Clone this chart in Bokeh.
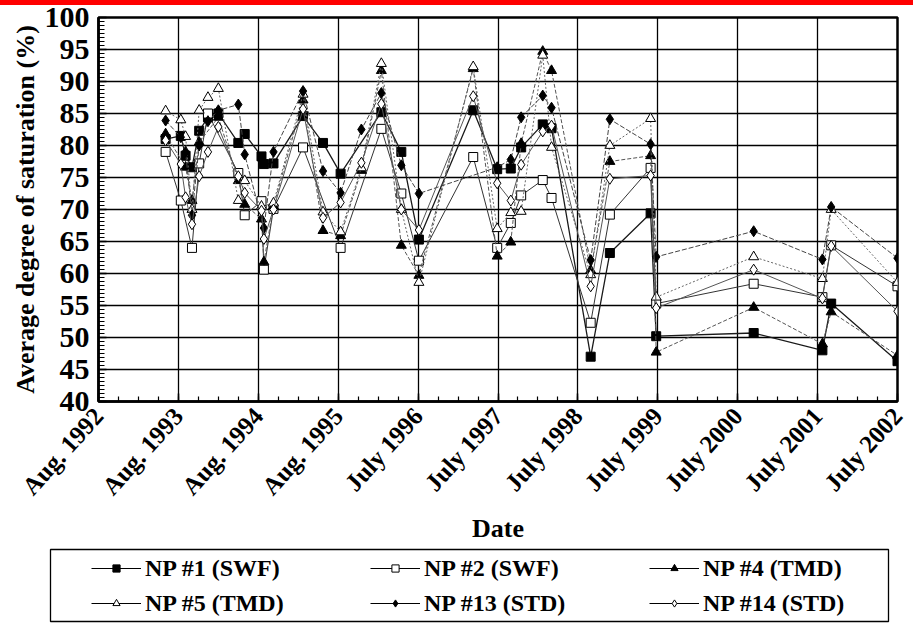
import math
from bokeh.plotting import figure
from bokeh.models import FixedTicker, Range1d, Legend, LegendItem, ColumnDataSource, Div
from bokeh.layouts import column
from bokeh.embed import file_html
from bokeh.resources import INLINE

# ---------------- data ----------------
# sampling dates, in years after Aug. 1992 (one axis interval = one year)
sample_t = [0.84, 1.03, 1.09, 1.17, 1.26, 1.37, 1.50, 1.75, 1.83, 2.04, 2.07, 2.19,
            2.56, 2.81, 3.03, 3.29, 3.54, 3.79, 4.01, 4.69, 4.99, 5.16, 5.29, 5.56,
            5.67, 6.16, 6.40, 6.91, 6.98, 8.20, 9.06, 9.17, 10.0]

tick_labels = ["Aug. 1992", "Aug. 1993", "Aug. 1994", "Aug. 1995", "July 1996", "July 1997",
               "July 1998", "July 1999", "July 2000", "July 2001", "July 2002"]

np1 = [81.0, 81.5, 78.4, 76.6, 82.3, 84.4, 85.0, 80.4, 81.8, 78.3, 77.1, 77.2,
       84.6, 80.4, 75.6, None, 85.2, 79.0, 65.3, 85.5, 76.3, 76.4, 79.7, 83.3,
       82.7, 47.0, 63.2, 69.4, 50.2, 50.7, 48.0, 55.3, 46.3]
np2 = [79.0, 71.4, None, 64.0, 77.2, 85.0, None, 75.7, 69.1, 71.3, 60.6, 70.1,
       79.7, None, 64.0, None, 82.6, 72.5, 62.0, 78.2, 64.0, 67.9, 72.2, 74.6,
       71.8, 52.3, 69.2, 76.5, 55.3, 58.4, 56.3, 64.4, 58.0]
np4 = [81.8, None, 76.6, 71.4, 80.5, None, 84.4, 74.5, 70.8, 68.5, 61.8, 70.5,
       87.1, 66.7, 65.9, 76.1, 91.7, 64.4, 59.7, 92.0, 62.7, 64.9, 80.3, 94.7,
       91.7, 60.5, 77.5, 78.4, 47.7, 54.7, 49.0, 54.0, 47.2]
np5 = [85.4, 84.0, 81.4, 70.0, 85.5, 87.5, 88.9, 71.4, 74.5, 70.5, None, 71.0,
       88.0, 69.6, 66.5, 76.5, 92.8, 70.0, 58.6, 92.3, 67.0, 69.5, 69.7, 94.1,
       79.7, 59.8, 80.0, 84.2, 56.3, 62.6, 59.2, 70.0, 58.6]
np13 = [83.9, 81.3, 79.0, 69.1, 80.0, 83.8, 85.5, 86.4, 78.6, None, 67.1, 79.0,
        88.5, 76.0, 72.6, 82.5, 88.2, 76.9, 72.5, None, 76.6, 77.8, 84.4, 87.8,
        85.9, 62.1, 84.1, 80.2, 62.6, 66.6, 62.2, 70.4, 62.4]
np14 = [80.8, 77.1, 71.9, 67.7, 75.2, 79.0, 82.9, 75.2, 72.6, 69.8, 65.4, 70.0,
        85.7, 68.7, 71.1, 77.3, 86.5, 70.0, 66.8, 87.7, 74.1, 71.4, 77.0, 82.2,
        83.1, 58.0, 74.8, 75.3, 54.6, 60.6, 56.1, 64.3, 54.1]

series_names = ["NP #1 (SWF)", "NP #2 (SWF)", "NP #4 (TMD)",
                "NP #5 (TMD)", "NP #13 (STD)", "NP #14 (STD)"]
series_values = [np1, np2, np4, np5, np13, np14]

# ---------------- styles ----------------
styles = [
    dict(marker="square",   fill="black", size=9,  lcolor="#1a1a1a", lwidth=1.3, dash="solid"),
    dict(marker="square",   fill="white", size=9,  lcolor="#333333", lwidth=1.0, dash="solid"),
    dict(marker="triangle", fill="black", size=10, lcolor="#555555", lwidth=1.0, dash="4 2"),
    dict(marker="triangle", fill="white", size=10, lcolor="#666666", lwidth=1.0, dash="2 2"),
    dict(marker="diamond",  fill="black", size=11, lcolor="#444444", lwidth=1.0, dash="5 2"),
    dict(marker="diamond",  fill="white", size=11, lcolor="#555555", lwidth=1.0, dash="solid"),
]

FONT = "Liberation Serif"

p = figure(width=913, height=548, x_range=Range1d(0, 10), y_range=Range1d(40, 100),
           output_backend="svg", toolbar_location=None,
           min_border_left=98, min_border_right=16, min_border_top=17, min_border_bottom=147)
p.frame_align = False
p.background_fill_color = "white"
p.border_fill_alpha = 0
p.outline_line_color = "black"
p.outline_line_width = 2.5

xt = FixedTicker(ticks=list(range(0, 11)), minor_ticks=[i / 4 for i in range(0, 41)])
yt = FixedTicker(ticks=list(range(40, 101, 5)), minor_ticks=[40 + i * 0.625 for i in range(0, 97)])
p.xaxis.ticker = xt
p.yaxis.ticker = yt
p.xgrid.ticker = xt
p.ygrid.ticker = yt
p.xaxis.major_label_overrides = {i: lab for i, lab in enumerate(tick_labels)}
p.xaxis.major_label_orientation = math.radians(48)

for ax in (p.xaxis, p.yaxis):
    ax.axis_line_width = 2.5
    ax.axis_line_color = "black"
    ax.major_tick_in = 8
    ax.major_tick_out = 0
    ax.minor_tick_in = 6
    ax.minor_tick_out = 0
    ax.major_tick_line_width = 1.5
    ax.minor_tick_line_width = 1.2
    ax.major_label_text_font = FONT
    ax.major_label_text_font_style = "bold"
    ax.major_label_text_font_size = "25px"
    ax.major_label_text_color = "black"
    ax.axis_label_text_font = FONT
    ax.axis_label_text_font_style = "bold"
    ax.axis_label_text_font_size = "26px"
    ax.axis_label_text_color = "black"

p.xaxis.minor_tick_in = 5
p.yaxis.major_label_text_font_size = "30px"
p.yaxis.major_label_standoff = 9
p.xaxis.major_label_standoff = 10
p.xaxis.axis_label = "Date"
p.yaxis.axis_label = "Average degree of saturation (%)"
p.yaxis.axis_label_standoff = 2
p.xaxis.axis_label_standoff = 2

for g in (p.xgrid, p.ygrid):
    g.grid_line_color = "black"
    g.grid_line_width = 1.3

sources = []
for vals, st in zip(series_values, styles):
    xs = [t for t, v in zip(sample_t, vals) if v is not None]
    ys = [v for v in vals if v is not None]
    src = ColumnDataSource(dict(x=xs, y=ys))
    sources.append(src)
    p.line("x", "y", source=src, line_color=st["lcolor"], line_width=st["lwidth"],
           line_dash=st["dash"])
    p.scatter("x", "y", source=src, marker=st["marker"], size=st["size"],
              fill_color=st["fill"], line_color="black", line_width=1)

# ---------------- legend panel (boxed, below the chart) ----------------
lg = figure(width=913, height=75, x_range=Range1d(0, 1), y_range=Range1d(0, 1),
            output_backend="svg", toolbar_location=None, x_axis_type=None, y_axis_type=None,
            min_border_left=50, min_border_right=25, min_border_top=1, min_border_bottom=2)
lg.frame_align = False
lg.xgrid.visible = False
lg.ygrid.visible = False
lg.outline_line_color = "black"
lg.outline_line_width = 1.3
lg.border_fill_color = "white"

items = []
for name, st, src in zip(series_names, styles, sources):
    # same series data; it lies outside this panel's 0..1 ranges, so only the legend glyph shows
    r1 = lg.line("x", "y", source=src, line_color="black", line_width=1.2)
    r2 = lg.scatter("x", "y", source=src, marker=st["marker"], size=st["size"],
                    fill_color=st["fill"], line_color="black", line_width=1)
    items.append(LegendItem(label=name, renderers=[r1, r2]))

leg = Legend(items=items, orientation="horizontal", ncols=3, location=(41, 3),
             border_line_color=None, background_fill_alpha=0, padding=0, margin=0,
             spacing=5, glyph_width=50, glyph_height=18, label_standoff=4,
             label_width=220, label_height=30,
             label_text_font=FONT, label_text_font_style="bold",
             label_text_font_size="24px", label_text_color="black")
lg.add_layout(leg, "center")

# thin red band across the top of the page, lying behind the transparent plot border
bar = Div(width=913, height=5, margin=(0, 0, -5, 0), styles={"background-color": "#ff0000"})

layout = column(bar, p, lg, spacing=0)
open("out.html", "w").write(file_html(layout, INLINE))
